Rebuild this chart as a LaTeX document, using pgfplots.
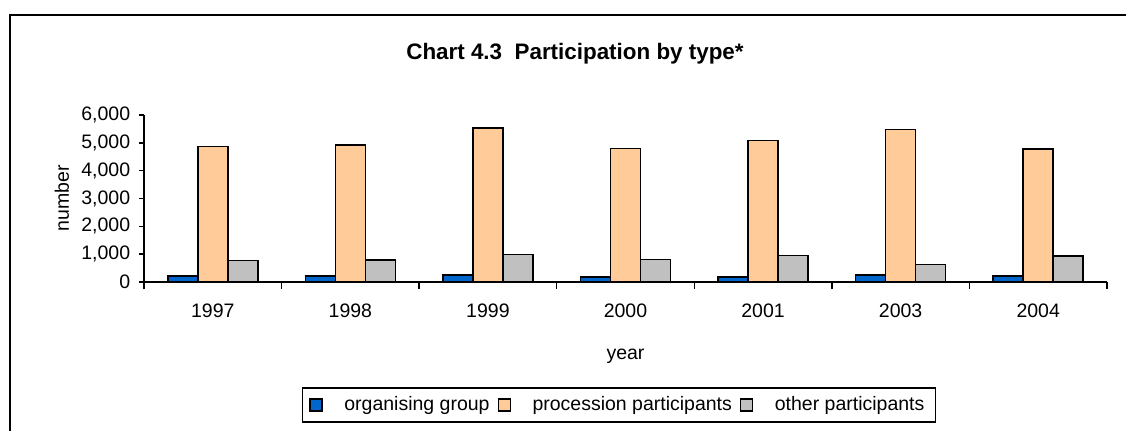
\documentclass[border=0pt]{standalone}
\usepackage{fontspec}
\setmainfont{Liberation Sans}
\usepackage{pgfplots}
\pgfplotsset{compat=1.18}
\definecolor{cblue}{HTML}{0066CC}
\definecolor{corange}{HTML}{FFCC99}
\definecolor{cgray}{HTML}{C0C0C0}
\begin{document}
\fontsize{9.75pt}{11.5pt}\selectfont
\begin{tikzpicture}
\path[use as bounding box, clip] (0,0) rectangle (563pt,215pt);
\fill[white] (0,0) rectangle (563pt,215pt);
\draw[line width=1pt] (5pt,-10pt)--(5pt,207.5pt)--(580pt,207.5pt);
\node[font=\fontsize{11.2pt}{13pt}\selectfont\bfseries] at (287.5pt,188pt) {Chart 4.3\ \ Participation by type*};
\begin{axis}[
 at={(72pt,74pt)}, anchor=south west,
 width=481.5pt, height=83.5pt, scale only axis,
 xmin=-0.5, xmax=6.5, ymin=0, ymax=6000,
 ybar=0pt, bar width=15pt,
 axis x line*=bottom, axis y line*=left,
 axis line style={-, line width=0.75pt},
 xtick={0,...,6},
 xticklabels={1997,1998,1999,2000,2001,2003,2004},
 minor xtick={-0.5,0.5,...,6.5},
 major x tick style={draw=none},
 minor x tick style={black, line width=0.75pt},
 ytick={0,1000,...,6000},
 y tick style={black, line width=0.75pt},
 tick align=outside,
 major tick length=2.5pt,
 minor tick length=3.5pt,
 xticklabel style={yshift=-5pt},
 yticklabel style={xshift=-1pt},
 /pgf/number format/1000 sep={,},
 /pgf/number format/assume math mode=true,
 xlabel={year},
 ylabel={number},
 xlabel style={at={(axis description cs:0.5,-0.445)}, anchor=center},
 ylabel style={at={(axis description cs:-0.0852,0.5)}, anchor=center},
 legend style={at={(0.4932,-0.7365)}, anchor=center, draw=black, line width=0.75pt,
   legend columns=3, inner xsep=3.5pt, inner ysep=2.2pt,
   /tikz/every odd column/.append style={column sep=8.85pt},
   /tikz/every even column/.append style={column sep=2pt}},
 legend image code/.code={\draw[#1, line width=0.6pt] (0pt,-3pt) rectangle (6pt,3pt);},
]
\addplot[fill=cblue, draw=black, line width=0.75pt] coordinates {(0,220) (1,220) (2,245) (3,175) (4,175) (5,245) (6,220)};
\addplot[fill=corange, draw=black, line width=0.75pt] coordinates {(0,4860) (1,4930) (2,5530) (3,4790) (4,5080) (5,5480) (6,4780)};
\addplot[fill=cgray, draw=black, line width=0.75pt] coordinates {(0,770) (1,795) (2,990) (3,815) (4,950) (5,625) (6,940)};
\legend{organising group, procession participants, other participants}
\end{axis}
\end{tikzpicture}
\end{document}
